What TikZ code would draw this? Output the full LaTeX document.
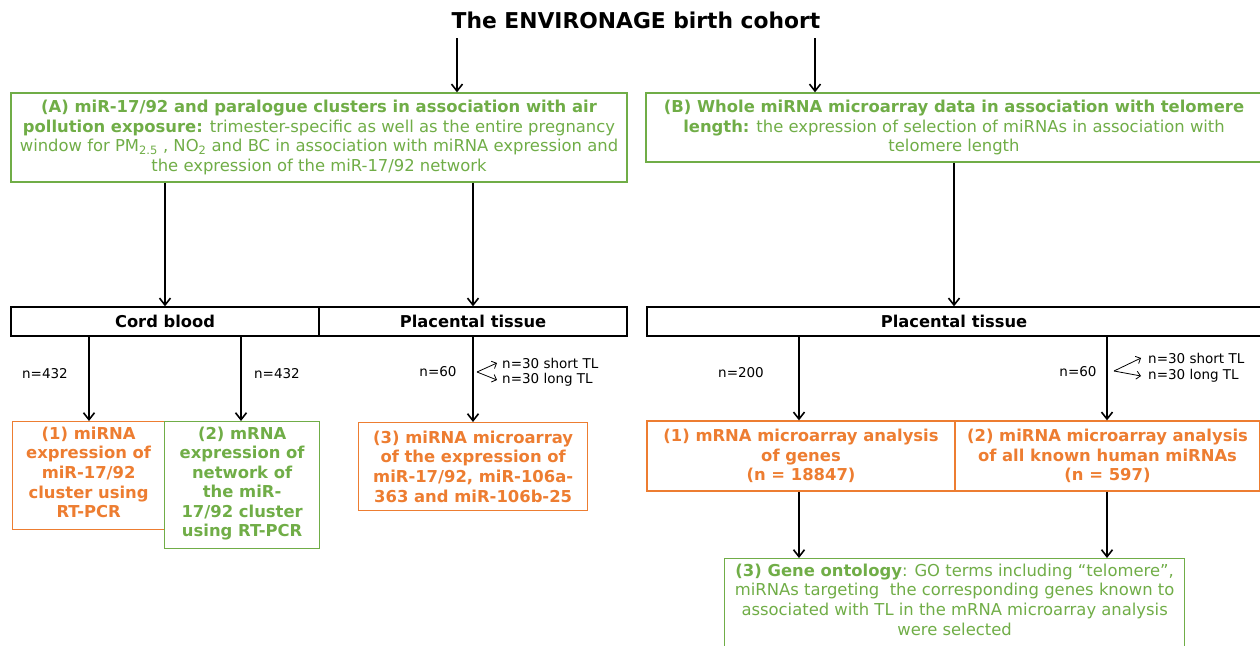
\documentclass[tikz,border=0pt]{standalone}
\usepackage{fontspec}
\setmainfont{DejaVu Sans}
\usetikzlibrary{arrows.meta}
\definecolor{gr}{HTML}{70AD47}
\definecolor{og}{HTML}{ED7D31}
\tikzset{
  box/.style={draw, line width=1.3pt, align=center, inner sep=0pt, font=\fontsize{16.4}{19.7}\selectfont},
  gbox/.style={box, draw=gr, text=gr},
  obox/.style={box, draw=og, text=og, font=\bfseries\fontsize{16.4}{19.7}\selectfont},
  hbox/.style={draw=black, line width=1.3pt, font=\bfseries\fontsize{16.3}{19}\selectfont, inner sep=0pt},
  arr/.style={line width=1.8pt, -{Straight Barb[length=7pt,width=11pt,line width=1.6pt]}},
  sarr/.style={line width=0.8pt, -{Straight Barb[length=4pt,width=8pt]}},
  nlab/.style={font=\fontsize{13.5}{16}\selectfont, inner sep=0pt},
  slab/.style={font=\fontsize{13.5}{16}\selectfont, inner sep=0pt, anchor=west},
}
\begin{document}
\begin{tikzpicture}[x=1pt,y=-1pt]
\useasboundingbox (0,0) rectangle (1260,645);
\node[font=\bfseries\fontsize{21.8}{26}\selectfont] (title) at (636,20) {The ENVIRONAGE birth cohort};
\coordinate (tA) at (457,38);
\coordinate (tB) at (815,38);
% Box A
\node[gbox, minimum width=616pt, minimum height=89pt] (A) at (319,137.5) {\textbf{(A) miR-17/92 and paralogue clusters in association with air}\\
\textbf{pollution exposure:} trimester-specific as well as the entire pregnancy\\
window for PM\textsubscript{2.5} , NO\textsubscript{2} and BC in association with miRNA expression and\\
the expression of the miR-17/92 network};
% Box B
\node[gbox, minimum width=616pt, minimum height=69pt] (B) at (954,127.5) {\textbf{(B) Whole miRNA microarray data in association with telomere}\\
\textbf{length:} the expression of selection of miRNAs in association with\\
telomere length};
\draw[arr] (tA) -- (tA |- A.north);
\draw[arr] (tB) -- (tB |- B.north);
% header row left
\node[hbox, minimum width=308pt, minimum height=29pt] (cb) at (165,321.5) {Cord blood};
\node[hbox, minimum width=308pt, minimum height=29pt] (pt1) at (473,321.5) {Placental tissue};
\node[hbox, minimum width=614pt, minimum height=29pt] (pt2) at (954,321.5) {Placental tissue};
\draw[arr] (A.south -| cb) -- (cb.north);
\draw[arr] (A.south -| pt1) -- (pt1.north);
\draw[arr] (B.south -| pt2) -- (pt2.north);
% bottom left boxes
\node[obox, minimum width=152pt, minimum height=108pt, anchor=north west] (b1) at (12,421) {};
\node[obox, draw=none, anchor=north, yshift=-5pt] at (b1.north) {(1) miRNA\\expression of\\miR-17/92\\cluster using\\RT-PCR};
\node[box, draw=gr, text=gr, minimum width=155pt, minimum height=127pt, anchor=north west] (b2) at (164,421) {};
\node[box, draw=none, text=gr, font=\bfseries\fontsize{16.4}{19.5}\selectfont, anchor=north, yshift=-5pt] at (b2.north) {(2) mRNA\\expression of\\network of\\the miR-\\17/92 cluster\\using RT-PCR};
\node[obox, minimum width=229pt, minimum height=88pt, anchor=north west] (b3) at (358,422) {(3) miRNA microarray\\of the expression of\\miR-17/92, miR-106a-\\363 and miR-106b-25};
\coordinate (x1) at (89,0);
\coordinate (x2) at (241,0);
\draw[arr] (cb.south -| x1) -- (b1.north -| x1);
\draw[arr] (cb.south -| x2) -- (b2.north -| x2);
\draw[arr] (pt1.south) -- (b3.north -| pt1);
\node[nlab] (n1) at (45,374) {n=432};
\node[nlab] (n2) at (277,374) {n=432};
\node[nlab] (n3) at (438,372) {n=60};
\coordinate (s1) at (477,372);
\node[slab] (st1) at (502,363) {n=30 short TL};
\node[slab] (lt1) at (502,380) {n=30 long TL};
\draw[sarr] (s1) -- ([xshift=-5pt]st1.west);
\draw[sarr] (s1) -- ([xshift=-5pt]lt1.west);
% bottom right boxes
\node[obox, minimum width=308pt, minimum height=70pt] (r1) at (801,456) {(1) mRNA microarray analysis\\of genes\\(n = 18847)};
\node[obox, minimum width=305pt, minimum height=70pt] (r2) at (1107.5,456) {(2) miRNA microarray analysis\\of all known human miRNAs\\(n = 597)};
\coordinate (x3) at (799,0);
\coordinate (x4) at (1107,0);
\draw[arr] (pt2.south -| x3) -- (r1.north -| x3);
\draw[arr] (pt2.south -| x4) -- (r2.north -| x4);
\node[nlab] (n4) at (741,373) {n=200};
\node[nlab] (n5) at (1078,372) {n=60};
\coordinate (s2) at (1114,371);
\node[slab] (st2) at (1148,358) {n=30 short TL};
\node[slab] (lt2) at (1148,376) {n=30 long TL};
\draw[sarr] (s2) -- ([xshift=-7pt]st2.west);
\draw[sarr] (s2) -- ([xshift=-7pt]lt2.west);
% GO box
\node[gbox, minimum width=460pt, minimum height=92pt, anchor=north west] (go) at (724,558) {};
\node[box, draw=none, text=gr, anchor=north, yshift=-5pt] at (go.north) {\textbf{(3) Gene ontology}: GO terms including “telomere”,\\
miRNAs targeting\ \ the corresponding genes known to\\
associated with TL in the mRNA microarray analysis\\
were selected};
\draw[arr] (r1.south -| x3) -- (go.north -| x3);
\draw[arr] (r2.south -| x4) -- (go.north -| x4);
\end{tikzpicture}
\end{document}
